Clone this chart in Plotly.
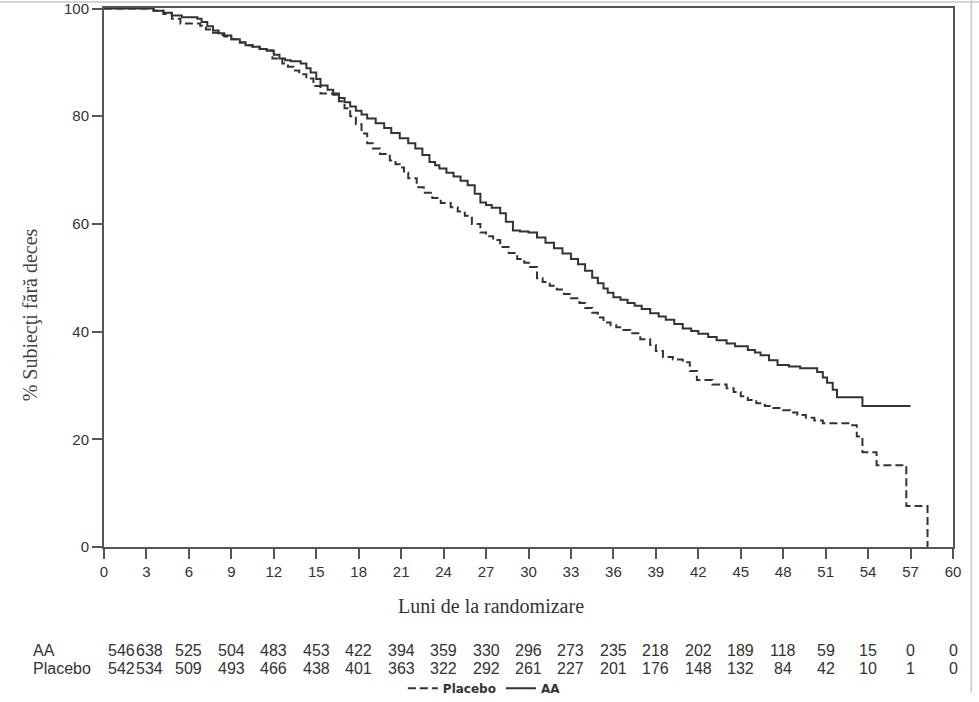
import plotly.graph_objects as go

# ---- data ----
aa_t = [0, 2.9, 3.5, 4.2, 4.8, 5.5, 6.6, 6.9, 7.3, 7.7, 8.1, 8.5, 9.0, 9.6, 10.0, 10.5, 11.0, 11.5,
        12.0, 12.4, 12.8, 13.2, 13.9, 14.3, 14.6, 15.0, 15.3, 15.8, 16.2, 16.6, 17.0, 17.4, 17.8,
        18.2, 18.6, 19.2, 19.8, 20.3, 20.9, 21.5, 22.0, 22.5, 23.0, 23.4, 23.7, 24.2, 24.7, 25.2,
        25.7, 26.2, 26.6, 27.0, 27.4, 28.0, 28.4, 28.9, 29.4, 30.0, 30.6, 31.2, 31.8, 32.4, 33.0,
        33.5, 34.0, 34.5, 34.9, 35.3, 35.6, 36.0, 36.5, 37.0, 37.5, 38.0, 38.6, 39.2, 39.7, 40.3,
        40.9, 41.5, 42.0, 42.7, 43.3, 44.0, 44.6, 45.5, 46.0, 46.4, 47.0, 47.6, 48.4, 49.2, 50.4,
        50.8, 51.1, 51.5, 51.8, 53.6, 57.0]
aa_s = [100, 100, 99.6, 99.2, 98.7, 98.4, 98.1, 97.5, 96.7, 95.9, 95.4, 95.0, 94.3, 93.7, 93.2, 92.9, 92.5, 92.2,
        91.4, 90.7, 90.4, 90.2, 89.8, 88.9, 88.1, 86.9, 85.7, 84.9, 84.2, 83.4, 82.6, 81.8, 81.0,
        80.3, 79.6, 78.7, 77.8, 76.9, 75.9, 75.0, 74.0, 72.8, 71.5, 70.9, 70.3, 69.5, 68.8, 68.0,
        67.2, 65.6, 64.0, 63.5, 63.0, 62.0, 60.4, 58.8, 58.6, 58.4, 57.5, 56.5, 55.5, 54.5, 53.5,
        52.5, 51.3, 50.0, 49.0, 48.0, 47.2, 46.4, 45.9, 45.3, 44.8, 44.2, 43.4, 42.8, 42.2, 41.4,
        40.6, 40.1, 39.6, 39.0, 38.4, 37.8, 37.3, 36.6, 36.1, 35.6, 34.7, 33.8, 33.5, 33.2, 32.5,
        31.5, 30.5, 29.2, 27.8, 26.2, 26.2]

pl_t = [0, 2.9, 3.5, 4.2, 4.8, 5.4, 6.8, 7.2, 7.7, 8.1, 8.5, 9.0, 9.6, 10.0, 10.5, 11.0, 11.5, 11.9,
        12.6, 13.0, 13.4, 13.8, 14.3, 14.8, 15.3, 16.2, 16.6, 17.0, 17.4, 17.8, 18.2, 18.6, 19.0,
        19.5, 20.2, 20.6, 20.9, 21.2, 21.5, 22.1, 22.6, 23.2, 23.8, 24.5, 25.0, 25.5, 26.0, 26.6,
        27.0, 27.5, 28.0, 28.6, 29.2, 29.7, 30.1, 30.6, 31.0, 31.5, 32.0, 32.5, 33.0, 33.6, 34.0,
        34.5, 34.9, 35.3, 35.8, 36.2, 36.7, 37.2, 37.9, 38.6, 39.0, 39.5, 40.2, 40.9, 41.4, 41.9,
        43.0, 44.0, 44.5, 45.0, 45.5, 46.1, 46.7, 47.3, 47.9, 48.5, 49.0, 49.6, 50.2, 50.8, 52.7,
        53.2, 53.6, 54.6, 56.7, 58.2]
pl_s = [100, 100, 99.6, 99.0, 98.1, 97.2, 96.8, 96.1, 95.5, 95.1, 94.8, 94.3, 93.7, 93.2, 92.9, 92.5, 92.2, 90.7,
        89.8, 89.2, 88.5, 87.8, 87.0, 85.6, 84.2, 84.0, 82.8, 81.5, 80.0, 78.5, 76.8, 75.0, 74.0,
        73.0, 71.8, 71.1, 70.5, 69.5, 68.5, 66.8, 65.8, 64.8, 63.9, 63.1, 62.3, 61.5, 60.0, 58.4,
        57.7, 57.0, 55.7, 54.6, 53.5, 52.8, 52.0, 49.9, 49.2, 48.5, 47.8, 47.0, 46.2, 45.3, 44.4,
        43.5, 42.6, 41.7, 41.2, 40.8, 40.3, 39.7, 38.6, 37.5, 36.4, 35.3, 34.8, 34.3, 32.7, 31.0,
        30.2, 29.5, 28.8, 28.0, 27.3, 26.7, 26.2, 25.8, 25.4, 25.0, 24.5, 24.0, 23.5, 23.0, 22.6,
        20.5, 17.6, 15.2, 7.6, 0]

risk_months = list(range(0, 61, 3))
risk_aa = [546, 638, 525, 504, 483, 453, 422, 394, 359, 330, 296, 273, 235, 218, 202, 189, 118, 59, 15, 0, 0]
risk_pl = [542, 534, 509, 493, 466, 438, 401, 363, 322, 292, 261, 227, 201, 176, 148, 132, 84, 42, 10, 1, 0]
risk_xshift = [17, 3] + [0] * 19

x_ticks = list(range(0, 61, 3))
y_ticks = [0, 20, 40, 60, 80, 100]

LINE = "#333333"
AXIS = "#555555"
TXT = "#333333"
SANS = "Liberation Sans, Arial, sans-serif"
SERIF = "Liberation Serif, Times New Roman, serif"

fig = go.Figure()
fig.add_trace(go.Scatter(x=pl_t, y=pl_s, mode="lines", name="Placebo", line_shape="hv",
                         line=dict(color=LINE, width=2, dash="8px,4px")))
fig.add_trace(go.Scatter(x=aa_t, y=aa_s, mode="lines", name="AA", line_shape="hv",
                         line=dict(color=LINE, width=2)))

annotations = []
annotations.append(dict(text="Luni de la randomizare", xref="paper", yref="paper", x=0.456, y=-0.109,
                        showarrow=False, font=dict(family=SERIF, size=20, color=TXT),
                        xanchor="center", yanchor="middle"))
annotations.append(dict(text="% Subiecţi fără deces", xref="paper", yref="paper", x=-0.087, y=0.43,
                        showarrow=False, textangle=-90, font=dict(family=SERIF, size=20, color="#444"),
                        xanchor="center", yanchor="middle"))
for label, row, ypos in [("AA", risk_aa, -0.1911), ("Placebo", risk_pl, -0.2245)]:
    annotations.append(dict(text=label, xref="paper", yref="paper", x=-0.086, y=ypos,
                            showarrow=False, font=dict(family=SANS, size=16, color=TXT),
                            xanchor="left", yanchor="middle"))
    for m, v, xs in zip(risk_months, row, risk_xshift):
        annotations.append(dict(text=str(v), xref="x", yref="paper", x=m, y=ypos, xshift=xs,
                                showarrow=False, font=dict(family=SANS, size=16, color=TXT),
                                xanchor="center", yanchor="middle"))

shapes = [
    dict(type="line", xref="paper", yref="paper", x0=-0.2, x1=1.06, y0=1.011, y1=1.011,
         line=dict(color="#c8c8c8", width=1.5)),
    dict(type="line", xref="paper", yref="paper", x0=1.0215, x1=1.0215, y0=1.02, y1=-0.27,
         line=dict(color="#c8c8c8", width=1.5)),
]

fig.update_layout(
    width=979, height=702,
    margin=dict(l=104, r=26, t=8, b=155, autoexpand=False),
    paper_bgcolor="white", plot_bgcolor="white",
    showlegend=True,
    legend=dict(orientation="h", x=0.448, y=-0.262, xanchor="center", yanchor="middle",
                font=dict(family="DejaVu Sans, sans-serif", size=12, color=TXT, weight="bold"),
                itemwidth=30, bgcolor="rgba(0,0,0,0)", traceorder="normal"),
    annotations=annotations,
    shapes=shapes,
    xaxis=dict(range=[0, 60], tickvals=x_ticks, ticks="outside", ticklen=10, tickwidth=1.5,
               tickcolor=AXIS, showline=True, linecolor=AXIS, linewidth=2, mirror=True,
               showgrid=False, zeroline=False, ticklabeloverflow="allow",
               tickfont=dict(family=SANS, size=15, color=TXT)),
    yaxis=dict(range=[0, 100.1], tickvals=y_ticks, ticks="outside", ticklen=10, tickwidth=1.5,
               tickcolor=AXIS, showline=True, linecolor=AXIS, linewidth=2, mirror=True,
               showgrid=False, zeroline=False, ticklabeloverflow="allow",
               tickfont=dict(family=SANS, size=15, color=TXT)),
)

fig.write_html("out.html")
